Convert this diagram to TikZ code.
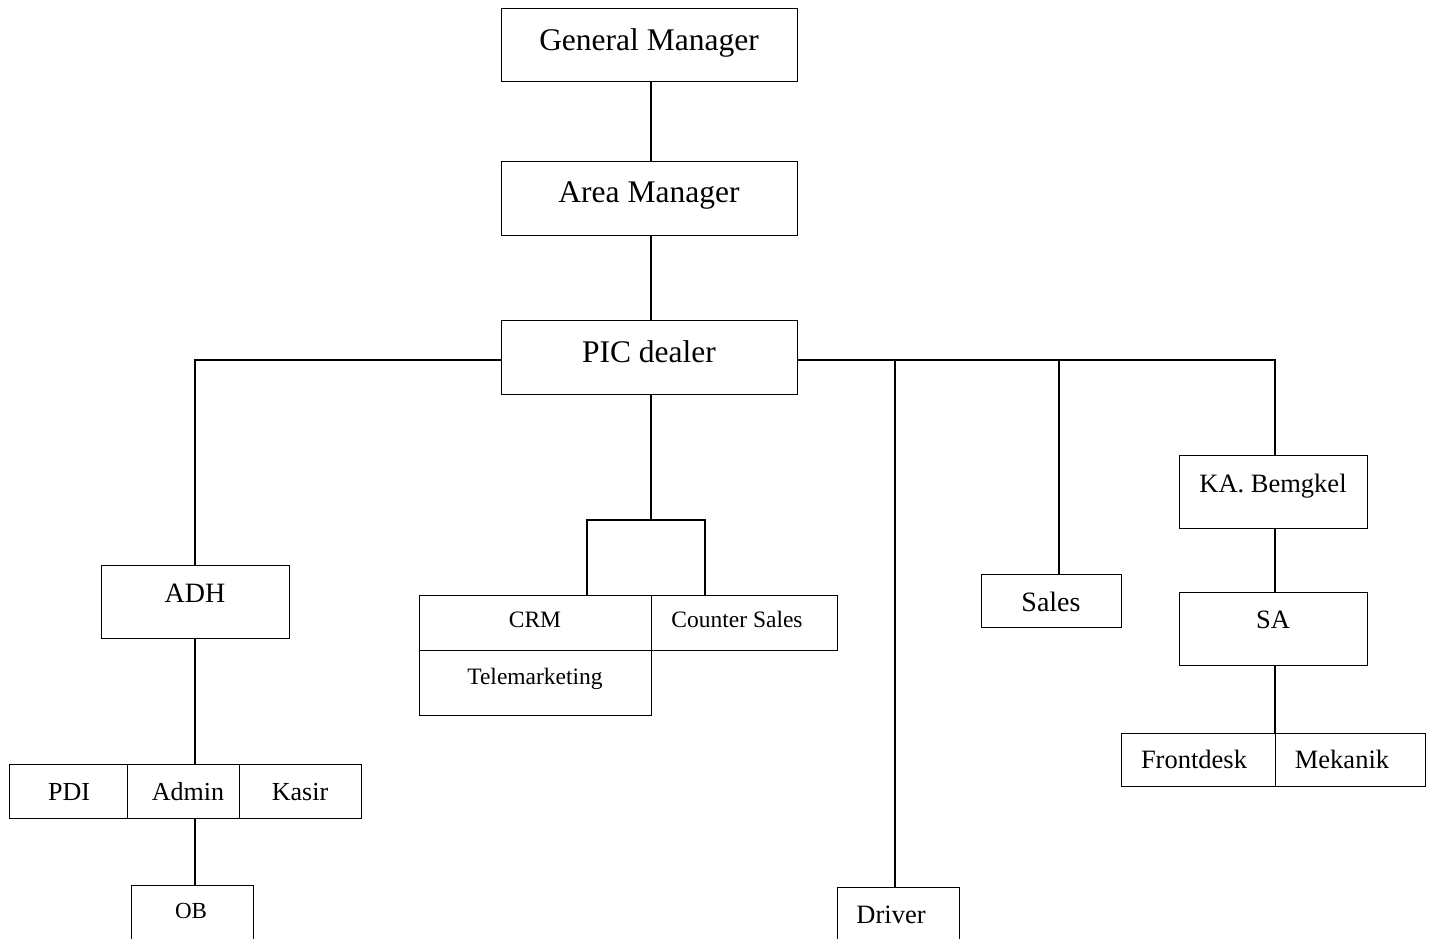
\documentclass[tikz,border=0pt]{standalone}
\usepackage{fontspec}
\setmainfont{Liberation Serif}
\newcommand{\fsz}[1]{\fontsize{#1}{#1}\selectfont}
\tikzset{
  box/.style={draw, line width=1pt, inner sep=0pt, rectangle},
  conn/.style={line width=2pt},
  lbl/.style={inner sep=0pt, anchor=base},
}
\begin{document}
\begin{tikzpicture}[x=1pt,y=-1pt]
\useasboundingbox (0,0) rectangle (1432,939);
\newcommand{\orgbox}[5]{%
  \node[box, minimum width={#4-#2}, minimum height={#5-#3}] (#1) at ({(#2+#4)/2},{(#3+#5)/2}) {};}
\orgbox{gm}{501}{9}{797}{82}
\orgbox{am}{501}{161}{797}{235}
\orgbox{pic}{501}{320}{797}{394}
\orgbox{adh}{101}{565}{289}{638}
\orgbox{pdi}{9}{764}{127}{818}
\orgbox{admin}{127}{764}{239}{818}
\orgbox{kasir}{239}{764}{361}{818}
\orgbox{ob}{131}{885}{253}{945}
\orgbox{crm}{419}{595}{651}{650}
\orgbox{cs}{651}{595}{837}{650}
\orgbox{tele}{419}{650}{651}{715}
\orgbox{driver}{837}{887}{959}{945}
\orgbox{sales}{981}{574}{1121}{627}
\orgbox{ka}{1179}{455}{1367}{528}
\orgbox{sa}{1179}{592}{1367}{665}
\orgbox{front}{1121}{733}{1275}{786}
\orgbox{mek}{1275}{733}{1425}{786}
% labels
\node[lbl] (gmt) at (649,51) {\fsz{31.5}General Manager};
\node[lbl] (amt) at (649,202) {\fsz{31.5}Area Manager};
\node[lbl] (pict) at (649,362) {\fsz{31.5}PIC dealer};
\node[lbl] (adht) at (195,602) {\fsz{28}ADH};
\node[lbl] (pdit) at (69,800) {\fsz{26}PDI};
\node[lbl] (admint) at (188,800) {\fsz{26}Admin};
\node[lbl] (kasirt) at (300,800) {\fsz{26}Kasir};
\node[lbl] (obt) at (191,918) {\fsz{23}OB};
\node[lbl] (crmt) at (535,627) {\fsz{23.5}CRM};
\node[lbl] (cst) at (737,627) {\fsz{23.5}Counter Sales};
\node[lbl] (telet) at (535,684) {\fsz{23.5}Telemarketing};
\node[lbl] (drivert) at (891,923) {\fsz{26.5}Driver};
\node[lbl] (salest) at (1051,611) {\fsz{28}Sales};
\node[lbl] (kat) at (1273,492) {\fsz{26.5}KA. Bemgkel};
\node[lbl] (sat) at (1273,628) {\fsz{26.5}SA};
\node[lbl] (frontt) at (1194,768) {\fsz{26.5}Frontdesk};
\node[lbl] (mekt) at (1342,768) {\fsz{26.5}Mekanik};
% junction coordinates
\coordinate (jl) at (195,360);
\coordinate (jr) at (1275,360);
\coordinate (jd) at (895,360);
\coordinate (js) at (1059,360);
\coordinate (jc) at (651,520);
\coordinate (jcl) at (587,520);
\coordinate (jcr) at (705,520);
% connectors
\draw[conn] (gm.south -| jc) -- (am.north -| jc);
\draw[conn] (am.south -| jc) -- (pic.north -| jc);
\draw[conn] (pic.west |- jl) -- (jl) -- (adh.north -| jl);
\draw[conn] (adh.south -| jl) -- (admin.north -| jl);
\draw[conn] (admin.south -| jl) -- (ob.north -| jl);
\draw[conn] (pic.east |- jr) -- (jr) -- (ka.north -| jr);
\draw[conn] (jd) -- (driver.north -| jd);
\draw[conn] (js) -- (sales.north -| js);
\draw[conn] (ka.south -| jr) -- (sa.north -| jr);
\draw[conn] (sa.south -| jr) -- (front.north -| jr);
\draw[conn] (pic.south -| jc) -- (jc);
\draw[conn] (crm.north -| jcl) -- (jcl) -- (jcr) -- (cs.north -| jcr);
\end{tikzpicture}
\end{document}
